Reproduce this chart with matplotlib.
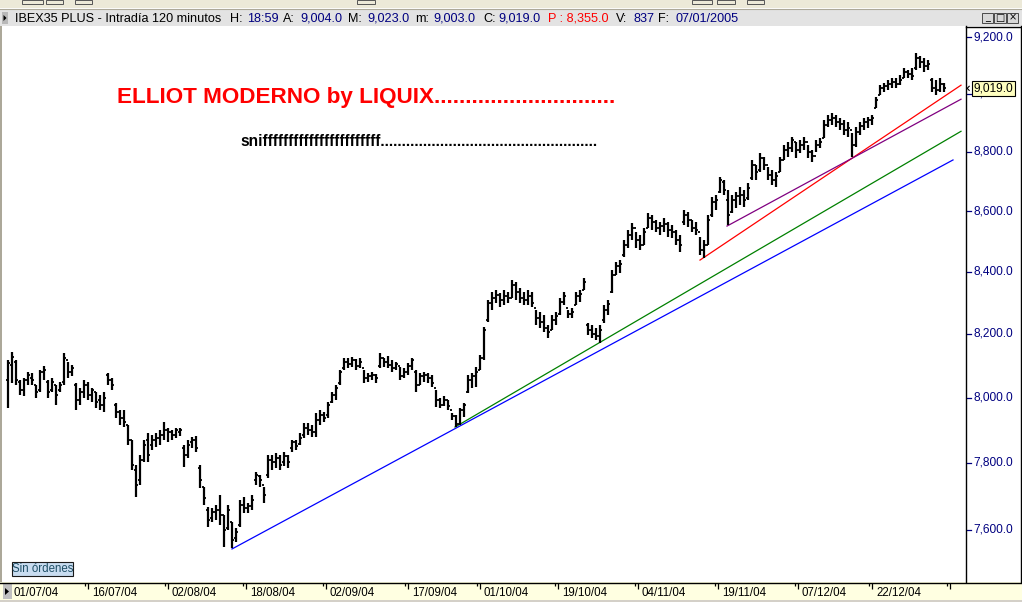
import matplotlib
matplotlib.use("Agg")
import matplotlib.pyplot as plt
import numpy as np
from matplotlib.patches import Rectangle, Polygon
from matplotlib.lines import Line2D

plt.rcParams['font.family'] = ['Liberation Sans', 'DejaVu Sans']

# ---------------- data (IBEX35 PLUS, 120-minute bars) ----------------
highs = [8117, 8143, 8117, 8055, 8061, 8080, 8077, 8039, 8086, 8098,
         8055, 8061, 8039, 8049, 8139, 8111, 8101, 8045, 8030, 8055,
         8049, 8030, 8017, 8008, 8017, 8077, 8061, 7983, 7961, 7961,
         7915, 7869, 7794, 7824, 7869, 7891, 7885, 7891, 7900, 7925,
         7906, 7900, 7906, 7906, 7854, 7869, 7878, 7881, 7794, 7727,
         7668, 7665, 7674, 7704, 7644, 7674, 7623, 7606, 7689, 7698,
         7680, 7704, 7772, 7763, 7727, 7824, 7824, 7830, 7824, 7833,
         7824, 7869, 7869, 7891, 7922, 7922, 7915, 7952, 7961, 7955,
         7986, 8017, 8039, 8086, 8123, 8123, 8126, 8120, 8123, 8086,
         8077, 8080, 8073, 8139, 8123, 8130, 8117, 8111, 8095, 8092,
         8108, 8123, 8086, 8077, 8080, 8077, 8070, 8023, 7998, 8005,
         7992, 7952, 7946, 7967, 7983, 8070, 8077, 8095, 8133, 8222,
         8308, 8334, 8341, 8331, 8341, 8334, 8373, 8367, 8347, 8334,
         8341, 8334, 8276, 8270, 8260, 8228, 8260, 8270, 8315, 8334,
         8276, 8282, 8334, 8341, 8379, 8234, 8228, 8218, 8228, 8292,
         8308, 8405, 8431, 8438, 8504, 8537, 8560, 8530, 8520, 8543,
         8593, 8586, 8570, 8563, 8576, 8563, 8553, 8537, 8520, 8603,
         8596, 8570, 8563, 8514, 8504, 8586, 8647, 8653, 8714, 8704,
         8670, 8653, 8663, 8680, 8670, 8694, 8772, 8755, 8796, 8782,
         8748, 8738, 8731, 8782, 8823, 8833, 8850, 8833, 8840, 8850,
         8823, 8806, 8840, 8847, 8909, 8926, 8933, 8926, 8916, 8909,
         8902, 8864, 8885, 8902, 8916, 8919, 8926, 8989, 9031, 9038,
         9048, 9055, 9055, 9066, 9090, 9083, 9090, 9143, 9132, 9125,
         9118, 9055, 9048, 9055, 9038]

lows = [7967, 8045, 8039, 8008, 8005, 8039, 8039, 7998, 8017, 8055,
        7998, 8017, 7977, 8017, 8039, 8061, 8067, 7961, 7977, 7998,
        7992, 7986, 7967, 7961, 7955, 8039, 8023, 7937, 7915, 7909,
        7854, 7778, 7698, 7733, 7803, 7803, 7839, 7848, 7854, 7869,
        7863, 7869, 7875, 7881, 7787, 7815, 7845, 7833, 7724, 7674,
        7609, 7623, 7629, 7615, 7550, 7600, 7547, 7564, 7609, 7650,
        7650, 7659, 7733, 7727, 7680, 7754, 7778, 7784, 7778, 7791,
        7784, 7833, 7839, 7854, 7875, 7885, 7878, 7878, 7915, 7925,
        7937, 7983, 7992, 8039, 8086, 8092, 8095, 8086, 8092, 8045,
        8049, 8055, 8045, 8092, 8095, 8092, 8080, 8086, 8055, 8061,
        8070, 8086, 8017, 8039, 8049, 8045, 8033, 7970, 7967, 7974,
        7961, 7931, 7909, 7915, 7940, 8014, 8030, 8033, 8086, 8117,
        8238, 8276, 8298, 8286, 8292, 8298, 8315, 8308, 8298, 8292,
        8292, 8286, 8228, 8218, 8206, 8187, 8212, 8228, 8260, 8292,
        8250, 8250, 8292, 8302, 8341, 8196, 8187, 8180, 8171, 8234,
        8260, 8331, 8389, 8395, 8448, 8477, 8504, 8477, 8471, 8487,
        8543, 8537, 8530, 8520, 8530, 8514, 8510, 8487, 8464, 8553,
        8547, 8530, 8520, 8454, 8444, 8487, 8580, 8603, 8660, 8653,
        8553, 8593, 8610, 8620, 8613, 8637, 8704, 8704, 8731, 8738,
        8704, 8687, 8680, 8731, 8772, 8782, 8799, 8779, 8796, 8806,
        8779, 8765, 8799, 8813, 8847, 8885, 8892, 8885, 8874, 8857,
        8850, 8782, 8816, 8857, 8874, 8881, 8892, 8950, 8996, 9006,
        9013, 9020, 9020, 9031, 9055, 9055, 9048, 9083, 9090, 9076,
        9083, 9006, 8996, 9006, 9006]

opens = [8055, 8101, 8111, 8049, 8023, 8055, 8061, 8039, 8023, 8080,
         8049, 8023, 8039, 8023, 8049, 8117, 8080, 8039, 7992, 8017,
         8039, 8008, 8017, 7992, 7977, 8070, 8055, 7977, 7955, 7937,
         7915, 7869, 7778, 7748, 7809, 7869, 7854, 7869, 7875, 7885,
         7900, 7894, 7885, 7894, 7845, 7824, 7863, 7869, 7784, 7727,
         7659, 7635, 7653, 7659, 7644, 7606, 7623, 7576, 7615, 7674,
         7665, 7671, 7748, 7760, 7733, 7763, 7809, 7803, 7815, 7803,
         7821, 7845, 7863, 7857, 7885, 7906, 7900, 7894, 7931, 7946,
         7946, 7986, 8008, 8045, 8092, 8111, 8104, 8117, 8098, 8092,
         8061, 8067, 8070, 8098, 8123, 8111, 8101, 8092, 8098, 8067,
         8080, 8098, 8080, 8039, 8067, 8070, 8061, 8030, 7992, 7977,
         7992, 7961, 7943, 7918, 7961, 8017, 8055, 8067, 8086, 8123,
         8244, 8298, 8315, 8324, 8308, 8321, 8315, 8357, 8334, 8315,
         8308, 8321, 8282, 8250, 8238, 8218, 8212, 8244, 8263, 8302,
         8282, 8263, 8292, 8321, 8341, 8228, 8212, 8199, 8193, 8244,
         8276, 8334, 8389, 8418, 8454, 8487, 8520, 8543, 8504, 8487,
         8543, 8576, 8563, 8543, 8550, 8557, 8537, 8530, 8504, 8563,
         8586, 8570, 8543, 8530, 8471, 8487, 8586, 8630, 8663, 8697,
         8637, 8596, 8637, 8650, 8653, 8643, 8711, 8755, 8738, 8779,
         8755, 8721, 8704, 8731, 8772, 8806, 8813, 8833, 8806, 8823,
         8833, 8799, 8786, 8823, 8847, 8892, 8909, 8916, 8902, 8895,
         8874, 8874, 8823, 8867, 8888, 8902, 8909, 8950, 8996, 9020,
         9027, 9034, 9041, 9034, 9055, 9076, 9069, 9090, 9125, 9111,
         9097, 9048, 9020, 9013, 9034]

closes = [8108, 8126, 8055, 8023, 8055, 8070, 8055, 8017, 8080, 8086,
          8017, 8049, 8008, 8039, 8123, 8080, 8092, 7992, 8017, 8039,
          8008, 8023, 7986, 7977, 7998, 8055, 8039, 7955, 7937, 7925,
          7869, 7794, 7733, 7809, 7854, 7824, 7869, 7875, 7885, 7900,
          7894, 7885, 7900, 7900, 7824, 7854, 7869, 7845, 7748, 7695,
          7629, 7653, 7659, 7644, 7600, 7659, 7570, 7594, 7674, 7665,
          7671, 7689, 7763, 7748, 7704, 7809, 7803, 7815, 7794, 7821,
          7803, 7863, 7851, 7875, 7906, 7900, 7894, 7931, 7946, 7937,
          7977, 8008, 8030, 8080, 8111, 8104, 8117, 8098, 8111, 8061,
          8067, 8070, 8061, 8123, 8111, 8101, 8092, 8104, 8067, 8080,
          8098, 8117, 8039, 8067, 8070, 8061, 8045, 7992, 7977, 7992,
          7974, 7943, 7918, 7961, 7977, 8055, 8067, 8080, 8123, 8212,
          8298, 8315, 8324, 8308, 8321, 8315, 8357, 8334, 8315, 8308,
          8321, 8298, 8250, 8238, 8218, 8206, 8244, 8257, 8302, 8321,
          8263, 8270, 8321, 8328, 8367, 8212, 8199, 8193, 8212, 8276,
          8295, 8389, 8418, 8425, 8487, 8520, 8543, 8504, 8487, 8530,
          8576, 8563, 8543, 8550, 8557, 8537, 8530, 8504, 8487, 8586,
          8570, 8543, 8537, 8471, 8487, 8570, 8630, 8637, 8704, 8670,
          8586, 8637, 8650, 8653, 8637, 8677, 8755, 8731, 8779, 8755,
          8721, 8704, 8718, 8772, 8806, 8813, 8840, 8806, 8823, 8833,
          8799, 8786, 8823, 8833, 8892, 8909, 8916, 8902, 8895, 8874,
          8881, 8823, 8867, 8888, 8902, 8909, 8916, 8978, 9020, 9027,
          9034, 9041, 9034, 9048, 9076, 9069, 9062, 9125, 9111, 9097,
          9104, 9020, 9013, 9034, 9019]

price_ticks = [7600, 7800, 8000, 8200, 8400, 8600, 8800, 9000, 9200]
first_date = "01/07/04"
date_labels = ["16/07/04", "02/08/04", "18/08/04", "02/09/04", "17/09/04", "01/10/04",
               "19/10/04", "04/11/04", "19/11/04", "07/12/04", "22/12/04", ""]
date_tick_bars = [20, 40, 59.5, 79.5, 100, 118, 137.5, 157.5, 177.5, 197.5, 216, 235.5]

# trend lines: (bar index, price) end points
blue_x, blue_p = [56, 236.25], [7544, 8772]
green_x, green_p = [111.75, 238.25], [7909, 8870]
red_x, red_p = [173, 238.25], [8438, 9030]
purple_x, purple_p = [179.75, 238.25], [8550, 8981]

last_price = 9019.0
header = [("IBEX35 PLUS - Intradía 120 minutos", "k"), ("H:", "k"), ("18:59", "n"),
          ("A:", "k"), ("9,004.0", "n"), ("M:", "k"), ("9,023.0", "n"),
          ("m:", "k"), ("9,003.0", "n"), ("C:", "k"), ("9,019.0", "n"),
          ("P : 8,355.0", "r"), ("V:", "k"), ("837", "n"), ("F:", "k"), ("07/01/2005", "n")]
header_x = [15, 230, 247, 283, 300, 348, 367, 415, 433, 483, 498, 548, 616, 633, 658, 675]

title_text = "ELLIOT MODERNO by LIQUIX" + "." * 29
sub_text = "sni" + "f" * 23 + "." * 51

# ---------------- figure ----------------
W, H = 1022, 602
fig = plt.figure(figsize=(W / 100, H / 100), dpi=100)
fig.patch.set_facecolor("white")


def fx(px):
    return px / W


def fy(py):
    return 1 - py / H


def frect(x0, y0, x1, y1, fc, ec="none", lw=0, z=0):
    fig.patches.append(Rectangle((fx(x0), fy(y1)), (x1 - x0) / W, (y1 - y0) / H,
                                 transform=fig.transFigure, facecolor=fc,
                                 edgecolor=ec, linewidth=lw, zorder=z))


def fline(xs, ys, color="black", lw=1.0, z=5):
    fig.lines.append(Line2D([fx(x) for x in xs], [fy(y) for y in ys],
                            transform=fig.transFigure, color=color, linewidth=lw, zorder=z))


NAVY = "#000080"
colmap = {"k": "black", "n": NAVY, "r": "#ff0000"}

# toolbar strip and title bar
frect(0, 0, W, 8, "#ece9d8")
fline([0, W], [8.5, 8.5], color="#aca899", lw=0.8)
for (a, b) in [(22, 43), (46, 63), (75, 92), (357, 375), (692, 712),
               (717, 735), (747, 764)]:
    frect(a, 0, b, 4, "none", ec="#555555", lw=0.7, z=2)
frect(0, 10, W, 26, "#e3e3e3")
frect(2, 12, 8, 24, "#b8b8b8", z=2)
fig.patches.append(Polygon([[fx(3.5), fy(15)], [fx(6.5), fy(18)], [fx(3.5), fy(21)]],
                           closed=True, transform=fig.transFigure, facecolor="black", zorder=3))
for s, x in zip(header, header_x):
    fig.text(fx(x), fy(18.5), s[0], color=colmap[s[1]], fontsize=9.1,
             va="center", ha="left", zorder=4)
for (a, b), sym in zip([(982, 993), (994, 1006), (1007, 1018)], ["_", "□", "×"]):
    frect(a, 13, b, 23, "#d8d8d8", ec="#333333", lw=0.6, z=3)
    fig.text(fx((a + b) / 2), fy(17.5), sym, fontsize=7, ha="center", va="center",
             family=["DejaVu Sans"], zorder=4)

# left border
frect(0, 26, 2, 582, "#aca899", z=1)

# ---------------- main chart ----------------
ax = fig.add_axes([fx(3), fy(582), (966 - 3) / W, (582 - 27) / H])
ax.set_facecolor("white")
ax.set_yscale("log")
ax.set_ylim(7448, 9236)
ax.set_xlim(-1.25, 239.5)
ax.set_axis_off()

idx = np.arange(len(highs))
assert len(highs) == len(lows) == len(opens) == len(closes)
ax.vlines(idx, lows, highs, color="black", linewidth=1.6, zorder=3)
ax.hlines(opens, idx - 0.55, idx, color="black", linewidth=1.3, zorder=3)
ax.hlines(closes, idx, idx + 0.55, color="black", linewidth=1.3, zorder=3)

for xs, ps, c in [(blue_x, blue_p, "#0000ff"), (green_x, green_p, "#008000"),
                  (red_x, red_p, "#ff0000"), (purple_x, purple_p, "#800080")]:
    ax.plot(xs, ps, color=c, linewidth=0.9, zorder=2)

fig.text(fx(117), fy(97), title_text, color="#ff0000", fontsize=16.2,
         fontweight="bold", ha="left", va="center", zorder=6)
fig.text(fx(240), fy(141), sub_text, color="black", fontsize=11.2,
         fontweight="bold", ha="left", va="center", zorder=6)

# "Sin órdenes" box
frect(12, 562, 73, 576, "#c8dcf0", ec="#1a1a1a", lw=0.8, z=6)
fig.text(fx(42.5), fy(569), "Sin órdenes", color="#1f4f66", fontsize=8.3,
         ha="center", va="center", zorder=7)

# ---------------- price axis panel ----------------
pax = fig.add_axes([fx(966), fy(582), (1021 - 966) / W, (582 - 27) / H])
pax.set_yscale("log")
pax.set_ylim(7448, 9236)
pax.set_xlim(0, 55)
pax.set_axis_off()
pax.set_zorder(4)
for p in price_ticks:
    pax.plot([0, 5], [p, p], color=NAVY, linewidth=0.9)
    pax.text(7, p, f"{p:,.1f}", color=NAVY, fontsize=8.6, va="center", ha="left", zorder=2)
pax.text(7.5, last_price, f"{last_price:,.1f}", color="black", fontsize=8.6, va="center",
         ha="left", zorder=5,
         bbox=dict(boxstyle="square,pad=0.15", facecolor="#ffffc0", edgecolor="black",
                   linewidth=0.8))
pax.plot([3.2, 1.2, 3.2], [last_price * 1.0008, last_price, last_price / 1.0008],
         color="black", linewidth=0.8, zorder=5)
fline([966, 966], [26, 582], lw=1.0)
fline([1021, 1021], [26, 582], lw=1.0)
fline([966, 1021], [26.5, 26.5], lw=1.0)

# ---------------- date axis ----------------
frect(0, 582, W, 600, "#ffffe1", z=0)
frect(0, 600, W, 602, "#d4d0c8", z=0)
fline([0, W], [582.5, 582.5], lw=1.0)
frect(3, 584, 12, 599, "#c0c0c0", z=2)
fig.patches.append(Polygon([[fx(5), fy(588)], [fx(9), fy(591.5)], [fx(5), fy(595)]],
                           closed=True, transform=fig.transFigure, facecolor="black", zorder=3))
dax = fig.add_axes([fx(3), fy(600), (966 - 3) / W, (600 - 583) / H])
dax.set_zorder(5)
dax.set_xlim(-1.25, 239.5)
dax.set_ylim(17, 0)
dax.set_axis_off()
dax.patch.set_alpha(0)
for b, lab in zip(date_tick_bars, date_labels):
    dax.vlines(b, 0, 5.5, color="black", linewidth=0.9)
    dax.vlines(b - 0.7, 0, 3, color="black", linewidth=0.9)
    dax.text(b + 1.0, 10.5, lab, fontsize=8.3, color="black", ha="left", va="center")
dax.text(1.4, 10.5, first_date, fontsize=8.3, color="black", ha="left", va="center")

fig.savefig("out.png", dpi=100, facecolor=fig.get_facecolor())
